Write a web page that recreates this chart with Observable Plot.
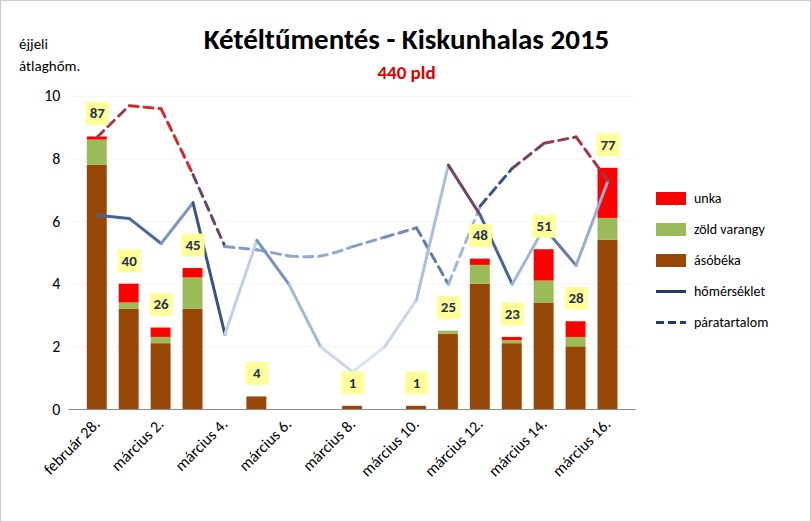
<!DOCTYPE html>
<html><head><meta charset="utf-8">
<script src="https://cdn.jsdelivr.net/npm/d3@7"></script>
<script src="https://cdn.jsdelivr.net/npm/@observablehq/plot@0.6"></script>
<style>
body{margin:0;font-family:Calibri,Carlito,"Liberation Sans",Arial,sans-serif;background:#fff}
#wrap{position:relative;width:811px;height:522px;border:1px solid #ccc;box-sizing:border-box}
#title{position:absolute;top:20px;left:0;width:811px;text-align:center;font-size:29px;font-weight:bold;padding-left:0}
#sub{position:absolute;top:60px;left:0;width:811px;text-align:center;font-size:19px;font-weight:bold;color:#e00000}
#ylab{position:absolute;top:32px;left:18px;font-size:15px;line-height:22px}
#leg{position:absolute;left:655px;top:182px;font-size:14px}
#leg div{display:flex;align-items:center;height:31px}
#leg span.k{display:inline-block;width:30px;margin-right:8px}
svg{position:absolute;top:0;left:0}
</style></head><body>
<div id="wrap">
<div id="title">Kétéltűmentés - Kiskunhalas 2015</div>
<div id="sub">440 pld</div>
<div id="ylab">éjjeli<br>átlaghőm.</div>
<div id="chart"></div>
<div id="leg">
<div><span class="k" style="height:13px;background:#ff0000"></span>unka</div>
<div><span class="k" style="height:13px;background:#9bbb59"></span>zöld varangy</div>
<div><span class="k" style="height:13px;background:#974706"></span>ásóbéka</div>
<div><span class="k" style="height:3px;background:#1f3a6e"></span>hőmérséklet</div>
<div><span class="k" style="height:3px;background:repeating-linear-gradient(90deg,#1f3a6e 0 8px,transparent 8px 12px)"></span>páratartalom</div>
</div>
</div>
<script>
const days = ["február 28.","március 1.","március 2.","március 3.","március 4.","március 5.","március 6.","március 7.","március 8.","március 9.","március 10.","március 11.","március 12.","március 13.","március 14.","március 15.","március 16."];
const asobeka = [7.8,3.2,2.1,3.2,0,0.4,0,0,0.1,0,0.1,2.4,4.0,2.1,3.4,2.0,5.4];
const zold = [0.8,0.2,0.2,1.0,0,0,0,0,0,0,0,0.1,0.6,0.1,0.7,0.3,0.7];
const unka = [0.1,0.6,0.3,0.3,0,0,0,0,0,0,0,0,0.2,0.1,1.0,0.5,1.6];
const totals = [87,40,26,45,null,4,null,null,1,null,1,25,48,23,51,28,77];
const homerseklet = [6.2,6.1,5.3,6.6,2.4,5.4,4.0,2.0,1.2,2.0,3.5,7.8,6.2,4.0,5.8,4.6,7.3];
const paratartalom = [8.7,9.7,9.6,7.5,5.2,5.1,4.9,4.9,5.2,5.5,5.8,4.0,6.5,7.7,8.5,8.7,7.3];

const bars = [];
days.forEach((d,i)=>{
  bars.push({d,s:"ásóbéka",v:asobeka[i],c:"#974706"});
  bars.push({d,s:"zöld varangy",v:zold[i],c:"#9bbb59"});
  bars.push({d,s:"unka",v:unka[i],c:"#ff0000"});
});
const lab = days.map((d,i)=>({d,t:totals[i],y:asobeka[i]+zold[i]+unka[i]+0.75})).filter(o=>o.t!=null);
const temp = days.map((d,i)=>({d,v:homerseklet[i]}));
const hum = days.map((d,i)=>({d,v:paratartalom[i]}));

const chart = Plot.plot({
  width:811,height:522,marginLeft:68,marginRight:175,marginTop:95,marginBottom:113,
  style:{fontFamily:"Calibri,Carlito,'Liberation Sans',Arial,sans-serif",fontSize:"16px",background:"transparent"},
  x:{domain:days,padding:0.38,label:null,tickSize:0,tickRotate:-45,tickFormat:(d,i)=>i%2===0?d:""},
  y:{domain:[0,10],ticks:[0,2,4,6,8,10],label:null,tickSize:0,grid:true},
  color:{type:"linear",domain:[1,5,6.5,9.7],range:["#dce6f2","#8fa8cc","#34548a","#d42a2a"]},
  marks:[
    Plot.barY(bars,{x:"d",y:"v",fill:"c",order:null}),
    Plot.ruleY([0],{stroke:"#888"}),
    Plot.line(hum,{x:"d",y:"v",z:null,stroke:"v",strokeWidth:3,strokeDasharray:"9,6",curve:"catmull-rom"}),
    Plot.line(temp,{x:"d",y:"v",z:null,stroke:"v",strokeWidth:3,curve:"catmull-rom"}),
    Plot.dot(lab,{x:"d",y:"y",symbol:"square",r:13,fill:"#ffff99",stroke:"none"}),
    Plot.text(lab,{x:"d",y:"y",text:"t",fontWeight:"bold",fontSize:15,fill:"#1f2f4f"})
  ]
});
chart.querySelectorAll("[aria-label='y-grid'] line").forEach(l=>l.setAttribute("stroke","#888"));
document.getElementById("chart").appendChild(chart);
</script>
</body></html>
